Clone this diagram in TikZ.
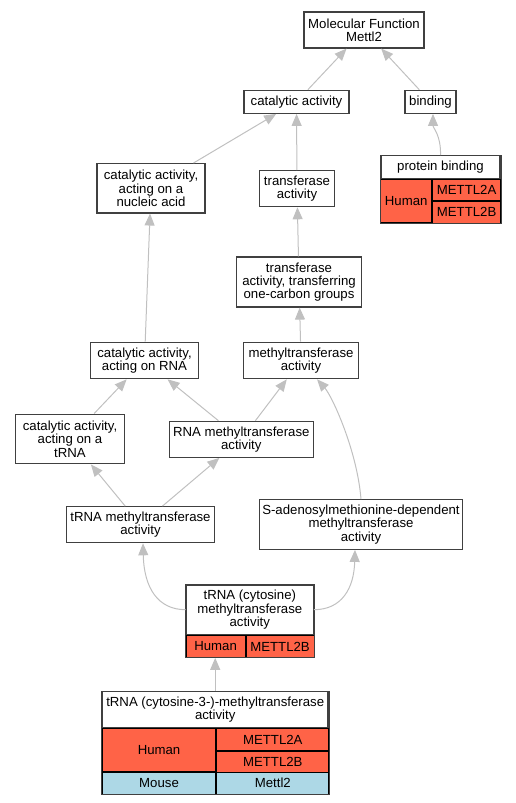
\documentclass[tikz,border=0pt]{standalone}
\usepackage{fontspec}
\setmainfont{Liberation Sans}
\usetikzlibrary{arrows.meta}
\usetikzlibrary{positioning}
\definecolor{humanred}{HTML}{FF6347}
\definecolor{mouseblue}{HTML}{ADD8E6}
\definecolor{edgegray}{HTML}{C0C0C0}
\tikzset{
    term/.style = {draw=black!75, line width=1.2pt, fill=white, inner sep=0pt,
                 align=center, font=\fontsize{13.2}{13.3}\selectfont},
    cell/.style = {draw=black, line width=0.9pt, inner sep=0pt,
                 align=center, font=\fontsize{13.2}{13.3}\selectfont},
    hum/.style = {cell, fill=humanred},
    mou/.style = {cell, fill=mouseblue},
    frame/.style = {draw=black!75, line width=1.2pt},
    isa/.style = {draw=edgegray, line width=1pt, -{Triangle[length=12pt,width=10pt]}},
}

\begin{document}
\begin{tikzpicture}[x=1pt,y=-1pt]
\useasboundingbox (0,0) rectangle (516,803);
\node (mf) [term, minimum width=120pt, minimum height=36pt] at (364,30) {Molecular Function\\Mettl2};
\node (cat) [term, minimum width=105pt, minimum height=23pt] at (296.5,101.8) {catalytic activity};
\node (bind) [term, minimum width=51pt, minimum height=23pt] at (430.5,101.8) {binding};
\node (catnuc) [term, minimum width=108pt, minimum height=49.3pt] at (151,188.3) {catalytic activity,\\acting on a\\nucleic acid};
\node (trans) [term, minimum width=74.6pt, minimum height=36pt] at (297,188.7) {transferase\\activity};
\node (onecarb) [term, minimum width=124.3pt, minimum height=50pt] at (299,282) {transferase\\activity, transferring\\one-carbon groups};
\node (catrna) [term, minimum width=108.4pt, minimum height=36.4pt] at (144.5,360.5) {catalytic activity,\\acting on RNA};
\node (methyl) [term, minimum width=115pt, minimum height=36.4pt] at (301,360.5) {methyltransferase\\activity};
\node (cattrna) [term, minimum width=108.3pt, minimum height=49.7pt] at (70,439) {catalytic activity,\\acting on a\\tRNA};
\node (rnamethyl) [term, minimum width=144pt, minimum height=36pt] at (241.3,439.3) {RNA methyltransferase\\activity};
\node (trnamethyl) [term, minimum width=148.4pt, minimum height=36pt] at (140.5,524.7) {tRNA methyltransferase\\activity};
\node (sam) [term, minimum width=203pt, minimum height=49.6pt] at (361,524.5) {S-adenosylmethionine-dependent\\methyltransferase\\activity};

% protein binding
\node (pb) [term, minimum width=119pt, minimum height=22.6pt] at (440.5,167) {protein binding};
\node (pbhum) [hum, minimum width=50.7pt, minimum height=42.7pt, below right=0pt of pb.south west] {Human};
\node (pba) [hum, minimum width=68.3pt, minimum height=21.35pt, below right=0pt of pbhum.north east] {METTL2A};
\node (pbb) [hum, minimum width=68.3pt, minimum height=21.35pt, below=0pt of pba] {METTL2B};
\draw[frame] (pb.north west) rectangle (pbb.south east);

% tRNA (cytosine)
\node (cyto) [term, minimum width=127pt, minimum height=49.3pt] at (249.8,609.7) {tRNA (cytosine)\\methyltransferase\\activity};
\node (cytohum) [hum, minimum width=59pt, minimum height=22pt, below right=0pt of cyto.south west] {Human};
\node (cytob) [hum, minimum width=68pt, minimum height=22pt, below right=0pt of cytohum.north east] {METTL2B};
\draw[frame] (cyto.north west) rectangle (cytob.south east);

% tRNA (cytosine-3-)
\node (cyt3) [term, minimum width=225.7pt, minimum height=36pt] at (215.2,709.7) {tRNA (cytosine-3-)-methyltransferase\\activity};
\node (cyt3hum) [hum, minimum width=113.7pt, minimum height=42.6pt, below right=0pt of cyt3.south west] {Human};
\node (cyt3a) [hum, minimum width=112pt, minimum height=21.3pt, below right=0pt of cyt3hum.north east] {METTL2A};
\node (cyt3b) [hum, minimum width=112pt, minimum height=21.3pt, below=0pt of cyt3a] {METTL2B};
\node (cyt3mou) [mou, minimum width=113.7pt, minimum height=21.7pt, below right=0pt of cyt3hum.south west] {Mouse};
\node (cyt3mm) [mou, minimum width=112pt, minimum height=21.7pt, below right=0pt of cyt3mou.north east] {Mettl2};
\draw[frame] (cyt3.north west) rectangle (cyt3mm.south east);

\draw[isa] (cat) to (mf);
\draw[isa] (bind) to (mf);
\draw[isa] (catnuc) to (cat);
\draw[isa] (trans) to (cat);
\draw[isa] (pb.north) .. controls (441,135) and (433,128) .. ([xshift=2.5pt]bind.south);
\draw[isa] (onecarb) to (trans);
\draw[isa] (catrna) to (catnuc);
\draw[isa] (methyl) to (onecarb);
\draw[isa] (cattrna) to (catrna);
\draw[isa] (rnamethyl) to (catrna);
\draw[isa] (rnamethyl) to (methyl);
\draw[isa] (sam.north) .. controls (357,450) and (332,396) .. ([xshift=16pt]methyl.south);
\draw[isa] (trnamethyl) to (cattrna);
\draw[isa] (trnamethyl) to (rnamethyl);
\draw[isa] (cyto.west) .. controls (158,609.7) and (144,588) .. ([xshift=2.5pt]trnamethyl.south);
\draw[isa] (cyto.east) .. controls (342,609.7) and (354,588) .. ([xshift=-6pt]sam.south);
\draw[isa] (cyt3.north) -- (cyt3.north |- cytohum.south);
\end{tikzpicture}
\end{document}
